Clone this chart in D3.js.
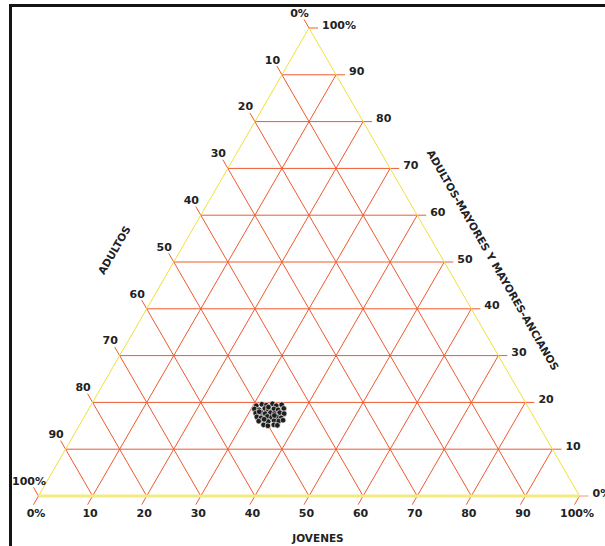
<!DOCTYPE html>
<html><head><meta charset="utf-8">
<script src="https://cdn.jsdelivr.net/npm/d3@7"></script>
<style>html,body{margin:0;padding:0;background:#fff;}svg{display:block;}</style>
</head><body>
<svg id="chart" width="605" height="546"></svg>
<script>
// ---- data ----
const tickValues = [0,10,20,30,40,50,60,70,80,90,100];
const bottomLabels = ["0%","10","20","30","40","50","60","70","80","90","100%"];
const leftLabels   = ["0%","10","20","30","40","50","60","70","80","90","100%"];
const rightLabels  = ["0%","10","20","30","40","50","60","70","80","90","100%"];
const titleBottom = "JOVENES";
const titleLeft = "ADULTOS";
const titleRight = "ADULTOS-MAYORES Y MAYORES-ANCIANOS";

const jovenes = [30.6,31.5,32.4,33.4,34.3,35.2, 30.6,31.6,32.5,33.2,34.2,35.1,36.0, 31.3,32.2,33.1,34.0,34.8,35.7,36.6, 31.9,32.8,33.8,34.7,35.6,36.5, 32.7,33.6,34.5,35.5,36.4,37.1, 34.0,34.9,35.9,36.6, 33.0,35.0,33.5,31.8];
const mayores = [19.3,19.6,19.4,19.7,19.3,19.5, 18.6,18.4,18.7,18.5,18.6,18.4,18.7, 17.7,17.9,17.6,17.8,17.6,17.8,17.6, 16.9,16.7,17.0,16.8,16.9,16.7, 16.0,16.2,15.9,16.1,16.0,16.2, 15.2,15.0,15.2,15.1, 19.0,17.2,16.4,18.0];
const adultos = [50.1,48.9,48.2,46.9,46.4,45.3, 50.8,50.0,48.8,48.3,47.2,46.5,45.3, 51.0,49.9,49.3,48.2,47.6,46.5,45.8, 51.2,50.5,49.2,48.5,47.5,46.8, 51.3,50.2,49.6,48.4,47.6,46.7, 50.8,50.1,48.9,48.3, 48.0,47.8,50.1,50.2];

// ---- drawing ----
const svg = d3.select("#chart");
const x0 = 38.5, x1 = 579.5, yBase = 496, yApex = 28;
const xScale = d3.scaleLinear().domain([0,100]).range([x0,x1]);
const yScale = d3.scaleLinear().domain([0,100]).range([yBase,yApex]);
// position from jovenes (j) and mayores (m); adultos = remainder
const pt = (j,m) => [xScale(j + m/2), yScale(m)];

const red = "#ef5a30";
const font = "'DejaVu Sans', sans-serif";

// frame
svg.append("path").attr("d","M10.5,546 L10.5,5.5 L605,5.5")
  .attr("fill","none").attr("stroke","#151515").attr("stroke-width",3);

const g = svg.append("g");
const line = (a,b,col,w) => g.append("line").attr("x1",a[0]).attr("y1",a[1]).attr("x2",b[0]).attr("y2",b[1])
   .attr("stroke",col).attr("stroke-width",w||1);

const TL = 10; // tick length
const dUpLeft = [-TL*0.5, -TL*0.866];
const dDownLeft = [-TL*0.5, TL*0.866];

tickValues.forEach((v,i) => {
  // interior grid
  if (v>0 && v<100) {
    line(pt(0,v), pt(100-v,v), red);          // constant mayores (horizontal)
    line(pt(v,0), pt(v,100-v), red);          // constant jovenes
    line(pt(0,100-v), pt(100-v,0), red);      // constant adultos
  }
  // right axis ticks (mayores)
  const r = pt(100-v, v);
  const rEnd = [r[0]+9, r[1]];
  line(r, rEnd, v===0 ? "#f29a84" : red);
  svg.append("text").attr("x", rEnd[0]+4).attr("y", r[1]-3)
    .attr("dominant-baseline","central").attr("font-family",font).attr("font-weight","bold")
    .attr("font-size",11).attr("fill","#222").text(rightLabels[i]);
  // bottom axis ticks (jovenes)
  const b = pt(v,0);
  const bEnd = [b[0]+dDownLeft[0], b[1]+dDownLeft[1]];
  line(b, bEnd, red);
  svg.append("text").attr("x", bEnd[0]+2.5).attr("y", 517)
    .attr("text-anchor","middle").attr("font-family",font).attr("font-weight","bold")
    .attr("font-size",11).attr("fill","#222").text(bottomLabels[i]);
  // left axis ticks (adultos)
  const l = pt(0,100-v);
  const lEnd = [l[0]+dUpLeft[0], l[1]+dUpLeft[1]];
  line(l, lEnd, red);
  svg.append("text").attr("x", lEnd[0]-4.5).attr("y", lEnd[1]-6)
    .attr("text-anchor","middle").attr("dominant-baseline","central").attr("font-family",font).attr("font-weight","bold")
    .attr("font-size",11).attr("fill","#222").text(leftLabels[i]);
});

// triangle edges
line(pt(0,0), pt(0,100), "#efe03a", 1);
line(pt(100,0), pt(0,100), "#efe03a", 1);
line(pt(0,0), pt(100,0), "#f3ea80", 3);

// titles
svg.append("text").attr("x",318).attr("y",542).attr("text-anchor","middle")
  .attr("font-family",font).attr("font-weight","bold").attr("font-size",10.5).attr("fill","#222").text(titleBottom);
svg.append("text").attr("transform","translate(114,250) rotate(-60)").attr("text-anchor","middle")
  .attr("dominant-baseline","central").attr("font-family",font).attr("font-weight","bold").attr("font-size",10.5)
  .attr("fill","#222").text(titleLeft);
svg.append("text").attr("transform","translate(493,260) rotate(60)").attr("text-anchor","middle")
  .attr("dominant-baseline","central").attr("font-family",font).attr("font-weight","bold").attr("font-size",10.5)
  .attr("fill","#222").text(titleRight);

// points
svg.append("g").selectAll("circle").data(jovenes.map((j,i)=>({j, m:mayores[i], a:adultos[i]})))
  .join("circle")
  .attr("cx", d => pt(d.j, d.m)[0])
  .attr("cy", d => pt(d.j, d.m)[1])
  .attr("r", 2.8)
  .attr("fill","#1e1e1e").attr("stroke","#fff").attr("stroke-width",0.6);
</script>
</body></html>
